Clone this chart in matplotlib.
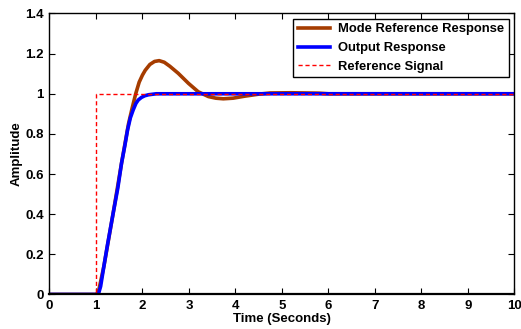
import matplotlib
matplotlib.use("Agg")
import matplotlib.pyplot as plt

plt.rcParams['font.family'] = ['Liberation Sans', 'DejaVu Sans']
plt.rcParams['font.weight'] = 'bold'

# reference step
ref_t = [0, 1.0, 1.0, 10]
ref_y = [0, 0, 1.0, 1.0]

# output response (blue)
out_t = [0, 1.05, 1.10, 1.17, 1.25, 1.37, 1.47, 1.55, 1.62, 1.68, 1.74, 1.80,
         1.86, 1.91, 1.98, 2.05, 2.13, 2.3, 10]
out_y = [0, 0, 0.04, 0.14, 0.25, 0.405, 0.53, 0.654, 0.74, 0.82, 0.88, 0.919,
         0.952, 0.969, 0.982, 0.99, 0.995, 1.0, 1.0]

# model reference response (brown)
mod_t = [0, 1.0, 1.05, 1.17, 1.37, 1.55, 1.70, 1.78, 1.855, 1.93, 2.0, 2.06,
         2.16, 2.26, 2.36, 2.47, 2.59, 2.77, 2.99, 3.20, 3.42, 3.58, 3.74, 3.95,
         4.2, 4.5, 4.75, 5.2, 5.8, 6.0, 10]
mod_y = [0, 0, 0.01, 0.14, 0.405, 0.654, 0.85, 0.93, 1.0, 1.058, 1.093, 1.117,
         1.146, 1.161, 1.165, 1.157, 1.137, 1.102, 1.052, 1.01, 0.986, 0.978,
         0.975, 0.978, 0.988, 0.998, 1.004, 1.005, 1.003, 1.0, 1.0]

fig = plt.figure(figsize=(5.21, 3.29), dpi=100)
ax = fig.add_axes([0.095, 0.105, 0.892, 0.854])

ax.plot(mod_t, mod_y, color='#A53C00', linewidth=2.6, label='Mode Reference Response')
ax.plot(out_t, out_y, color='#0000FF', linewidth=2.6, label='Output Response')
ax.plot(ref_t, ref_y, color='#FF0000', linewidth=1.0, linestyle=(0, (3, 2)),
        label='Reference Signal')

ax.set_xlim(0, 10)
ax.set_ylim(0, 1.4)
ax.set_xticks(range(0, 11))
ax.set_yticks([0, 0.2, 0.4, 0.6, 0.8, 1, 1.2, 1.4])
ax.set_yticklabels(['0', '0.2', '0.4', '0.6', '0.8', '1', '1.2', '1.4'])
ax.tick_params(direction='in', top=True, right=True, length=4, width=0.8,
               labelsize=9.5, pad=4)
for s in ax.spines.values():
    s.set_linewidth(1.0)
ax.spines['bottom'].set_linewidth(1.6)

ax.set_xlabel('Time (Seconds)', fontsize=9.5, fontweight='bold', labelpad=1)
ax.set_ylabel('Amplitude', fontsize=9.5, fontweight='bold', labelpad=2)

leg = ax.legend(loc='upper right', fontsize=9.4, fancybox=False, framealpha=1,
                edgecolor='black', handlelength=2.5, labelspacing=0.5,
                borderaxespad=0.4, handletextpad=0.6, borderpad=0.35)
leg.get_frame().set_linewidth(1.0)

fig.savefig('out.png', dpi=100)
